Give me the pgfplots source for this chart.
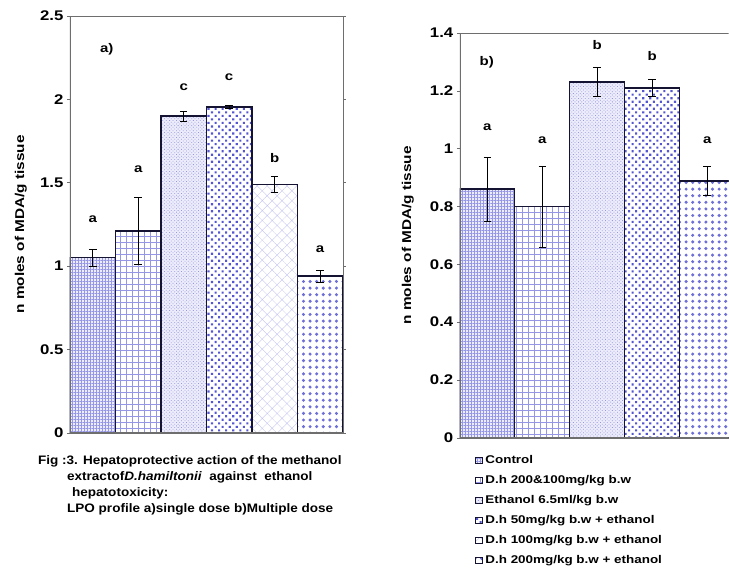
\documentclass[border=0pt]{standalone}
\usepackage{pgfplots}
\pgfplotsset{compat=1.18}
\usepackage{fontspec}
\setmainfont{Liberation Sans}
\newfontfamily\wf[FakeStretch=1.2]{Liberation Sans}
\newfontfamily\cf[FakeStretch=1.1]{Liberation Sans}
\usetikzlibrary{patterns.meta}
\definecolor{pc}{RGB}{85,85,210}
\definecolor{pclight}{RGB}{150,150,230}
\definecolor{lav}{RGB}{236,236,250}
\definecolor{barline}{RGB}{20,20,50}
\definecolor{axgray}{RGB}{110,110,110}

\tikzset{
  b1/.style={fill=lav, postaction={pattern={Hatch[distance=3pt,angle=0,line width=0.4pt]}, pattern color=pclight}},
  b2/.style={fill=white, postaction={pattern={Hatch[distance=6pt,angle=0,line width=0.4pt]}, pattern color=pclight}},
  b3/.style={fill=lav, postaction={pattern={Dots[distance=2.4pt,radius=0.55pt,angle=45]}, pattern color=pclight}},
  b4/.style={fill=white, postaction={pattern={Dots[distance=5pt,radius=1.5pt,angle=45]}, pattern color=pc}},
  b5/.style={fill=white, postaction={pattern={Hatch[distance=7pt,angle=45,line width=0.3pt]}, pattern color=pclight!60}},
  b6/.style={fill=white, postaction={pattern={Dots[distance=6.6pt,radius=1.7pt]}, pattern color=pc!85}},
  letter/.style={font=\fontsize{12.5}{14}\wf\bfseries},
  barst/.style={draw=barline, line width=1.3pt},
}

\pgfplotsset{
  myax/.style={
    scale only axis,
    xmin=0.5, ymin=0,
    xtick=\empty,
    tick align=outside,
    major tick length=3pt,
    ytick style={axgray, line width=0.6pt},
    axis line style={axgray, line width=0.6pt},
    tick label style={font=\fontsize{14}{16}\wf\bfseries},
    /pgf/number format/assume math mode=true,
    ylabel={n moles of MDA/g tissue},
    ybar, bar shift=0pt, bar width=1,
    error bars/error bar style={black, line width=0.8pt},
    error bars/error mark options={rotate=90, mark size=3.8pt, black, line width=0.8pt},
    legend image code/.code={\draw[#1, line width=0.6pt] (0pt,-3pt) rectangle (7pt,3pt);},
  },
}

\begin{document}
\begin{tikzpicture}
\path (0,0) rectangle (729pt,572pt);
% ---------------- left panel (a) ----------------
\begin{axis}[myax,
  at={(70pt,139pt)}, anchor=south west,
  width=273pt, height=417pt, xmax=6.5,
  ymax=2.5, ytick={0,0.5,1,1.5,2,2.5},
  every axis y label/.style={at={(axis description cs:-0.18,0.5)}, rotate=90, anchor=center,
    font=\fontsize{12.8}{14}\wf\bfseries},
]
\addplot[barst, b1, error bars/.cd, y dir=both, y explicit] coordinates {(1,1.05) +- (0,0.05)};
\addplot[barst, b2, error bars/.cd, y dir=both, y explicit] coordinates {(2,1.21) +- (0,0.20)};
\addplot[barst, b3, error bars/.cd, y dir=both, y explicit] coordinates {(3,1.90) +- (0,0.03)};
\addplot[barst, b4, error bars/.cd, y dir=both, y explicit] coordinates {(4,1.955) +- (0,0.01)};
\addplot[barst, b5, error bars/.cd, y dir=both, y explicit] coordinates {(5,1.49) +- (0,0.05)};
\addplot[barst, b6, error bars/.cd, y dir=both, y explicit] coordinates {(6,0.94) +- (0,0.035)};
\draw[axgray, line width=1.6pt] (rel axis cs:0,0) -- (rel axis cs:0,1);
\draw[axgray, line width=1.6pt] (rel axis cs:0,0) -- (rel axis cs:1,0);
\node[letter] at (axis cs:1.31,2.30) {a)};
\node[letter] at (axis cs:1,1.28) {a};
\node[letter] at (axis cs:2,1.58) {a};
\node[letter] at (axis cs:3,2.07) {c};
\node[letter] at (axis cs:4,2.13) {c};
\node[letter] at (axis cs:5,1.65) {b};
\node[letter] at (axis cs:6,1.10) {a};
\end{axis}
% ---------------- right panel (b) ----------------
\begin{axis}[myax,
  at={(460pt,134pt)}, anchor=south west,
  width=269pt, height=405pt, xmax=5.39,
  axis y line*=left, axis x line*=bottom,
  ymax=1.4, ytick={0,0.2,0.4,0.6,0.8,1,1.2,1.4},
  every axis y label/.style={at={(axis description cs:-0.193,0.5)}, rotate=90, anchor=center,
    font=\fontsize{12.8}{14}\wf\bfseries},
  legend style={at={(0.055,-0.04)}, anchor=north west, draw=none, fill=none,
    font=\fontsize{11.2}{13}\wf\bfseries, row sep=8.4pt,
    inner sep=0pt, nodes={inner sep=1pt},
    /tikz/every odd column/.append style={column sep=2pt}},
  legend cell align=left,
]
\addplot[barst, b1, error bars/.cd, y dir=both, y explicit] coordinates {(1,0.86) +- (0,0.11)};
\addlegendentry{Control}
\addplot[barst, b2, error bars/.cd, y dir=both, y explicit] coordinates {(2,0.80) +- (0,0.14)};
\addlegendentry{D.h 200\&100mg/kg b.w}
\addplot[barst, b3, error bars/.cd, y dir=both, y explicit] coordinates {(3,1.23) +- (0,0.05)};
\addlegendentry{Ethanol 6.5ml/kg b.w}
\addplot[barst, b4, error bars/.cd, y dir=both, y explicit] coordinates {(4,1.21) +- (0,0.03)};
\addlegendentry{D.h 50mg/kg b.w + ethanol}
\addplot[barst, b6, forget plot, error bars/.cd, y dir=both, y explicit] coordinates {(5,0.888) +- (0,0.05)};
\addlegendimage{barst, b5}
\addlegendentry{D.h 100mg/kg b.w + ethanol}
\addlegendimage{barst, b6}
\addlegendentry{D.h 200mg/kg b.w + ethanol}
\draw[axgray, line width=0.6pt] (rel axis cs:0,1) -- (rel axis cs:1,1);
\draw[axgray, line width=1.6pt] (rel axis cs:0,0) -- (rel axis cs:0,1);
\draw[axgray, line width=1.6pt] (rel axis cs:0,0) -- (rel axis cs:1,0);
\node[letter] at (axis cs:0.99,1.30) {b)};
\node[letter] at (axis cs:1,1.075) {a};
\node[letter] at (axis cs:2,1.03) {a};
\node[letter] at (axis cs:3,1.36) {b};
\node[letter] at (axis cs:4,1.32) {b};
\node[letter] at (axis cs:5,1.03) {a};
\end{axis}
% ---------------- caption ----------------
\begin{scope}[every node/.style={anchor=base west, inner sep=0pt, font=\fontsize{12.3}{14}\cf\bfseries}]
\node at (38pt,107pt) {Fig :3. Hepatoprotective action of the methanol};
\node at (67pt,91pt) {extractof\textit{D.hamiltonii}\ \ against\ \ ethanol};
\node at (72pt,75pt) {hepatotoxicity:};
\node at (67pt,59pt) {LPO profile a)single dose b)Multiple dose};
\end{scope}
\end{tikzpicture}
\end{document}
